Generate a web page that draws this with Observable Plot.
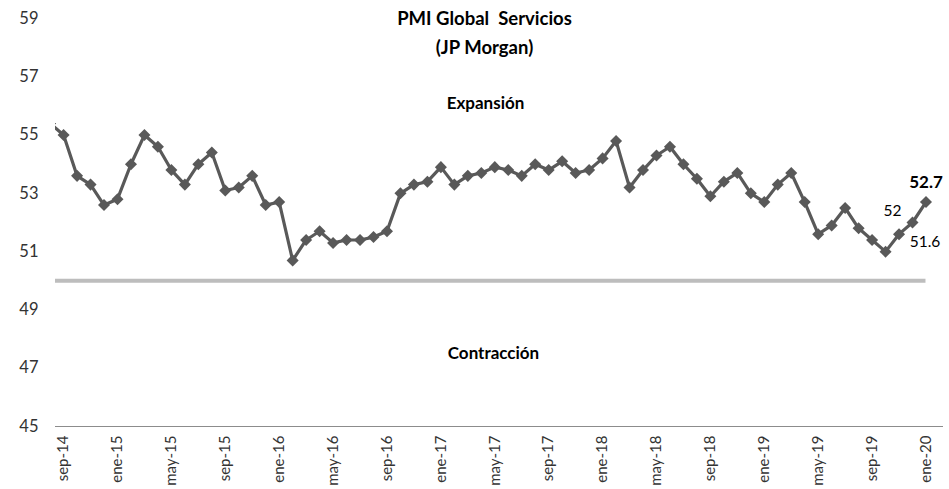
<!DOCTYPE html>
<html><head><meta charset="utf-8">
<script src="https://cdn.jsdelivr.net/npm/d3@7"></script>
<script src="https://cdn.jsdelivr.net/npm/@observablehq/plot@0.6"></script>
<style>body{margin:0;background:#fff} svg{display:block}</style>
</head><body><div id="chart"></div>
<script>
// ---- data ----
const monthAbbr = ["ene","feb","mar","abr","may","jun","jul","ago","sep","oct","nov","dic"];
const firstYear = 2014;      // series starts ago-14 (only partly visible, clipped by the axis)
const firstMonth = 7;        // 0-based month index (ago)
const pmi = [
  55.4,                                   // ago-14
  55.0, 53.6, 53.3, 52.6,                 // sep-dic 14
  52.8, 54.0, 55.0, 54.6, 53.8, 53.3, 54.0, 54.4, 53.1, 53.2, 53.6, 52.6, // 2015
  52.7, 50.7, 51.4, 51.7, 51.3, 51.4, 51.4, 51.5, 51.7, 53.0, 53.3, 53.4, // 2016
  53.9, 53.3, 53.6, 53.7, 53.9, 53.8, 53.6, 54.0, 53.8, 54.1, 53.7, 53.8, // 2017
  54.2, 54.8, 53.2, 53.8, 54.3, 54.6, 54.0, 53.5, 52.9, 53.4, 53.7, 53.0, // 2018
  52.7, 53.3, 53.7, 52.7, 51.6, 51.9, 52.5, 51.8, 51.4, 51.0, 51.6, 52.0, // 2019
  52.7                                    // ene-20
];
const tickLabels = ["sep-14","ene-15","may-15","sep-15","ene-16","may-16","sep-16","ene-17",
  "may-17","sep-17","ene-18","may-18","sep-18","ene-19","may-19","sep-19","ene-20"];
const yTicks = [45, 47, 49, 51, 53, 55, 57, 59];
const threshold = 50;
const titleLines = ["PMI Global  Servicios", "(JP Morgan)"];
const zoneLabels = ["Expansión", "Contracción"];
const labelledMonths = ["nov-19", "dic-19", "ene-20"];

// ---- build table ----
const firstVisible = tickLabels[0];
const rows = pmi.map((v, k) => {
  const m = firstMonth + k;
  const yr = firstYear + Math.floor(m / 12);
  return {label: monthAbbr[m % 12] + "-" + String(yr % 100).padStart(2, "0"), v};
});
const offset = rows.findIndex(d => d.label === firstVisible);
rows.forEach((d, k) => d.i = k - offset);
const idxOf = lab => rows.find(d => d.label === lab).i;
const tickIdx = tickLabels.map(idxOf);
const lastI = rows[rows.length - 1].i;
const xDomain = [-0.6, lastI + 1.3];
const labelled = rows.filter(d => labelledMonths.includes(d.label));
const fmt = v => String(+v.toFixed(1));

const font = "Lato, 'Open Sans', sans-serif";
const lineColor = "#595959";

const chart = Plot.plot({
  width: 949, height: 489,
  marginLeft: 55, marginRight: 6, marginTop: 18, marginBottom: 63,
  style: {fontFamily: font, fontSize: "14px", color: "#222", background: "#fff", overflow: "visible"},
  x: {type: "linear", domain: xDomain},
  y: {domain: [yTicks[0], yTicks[yTicks.length - 1]]},
  marks: [
    Plot.ruleY([yTicks[0]], {stroke: "#8c8c8c", strokeWidth: 1}),
    Plot.ruleY([threshold], {x1: xDomain[0], x2: lastI, stroke: "#bdbdbd", strokeWidth: 4}),
    Plot.line(rows, {x: "i", y: "v", stroke: lineColor, strokeWidth: 3.2, clip: true}),
    Plot.dot(rows, {x: "i", y: "v", symbol: "square", r: 4.8, rotate: 45, fill: lineColor, clip: true}),
    Plot.axisY({ticks: yTicks, tickSize: 0, tickPadding: 17, fontSize: 16.5, label: null, fill: "#333"}),
    Plot.axisX({ticks: tickIdx, tickFormat: i => tickLabels[tickIdx.indexOf(i)], tickRotate: -90,
      tickSize: 0, tickPadding: 9, fontSize: 15, label: null, fill: "#333"}),
    Plot.text([titleLines[0]], {frameAnchor: "top", dx: -15, dy: 6, lineAnchor: "bottom", fontWeight: "bold", fontSize: 18.5, fill: "#000"}),
    Plot.text([titleLines[1]], {frameAnchor: "top", dx: -15, dy: 35, lineAnchor: "bottom", fontWeight: "bold", fontSize: 18.5, fill: "#000"}),
    Plot.text([zoneLabels[0]], {frameAnchor: "top", dx: -14, dy: 90, lineAnchor: "bottom", fontWeight: "bold", fontSize: 17, fill: "#000"}),
    Plot.text([zoneLabels[1]], {frameAnchor: "top", dx: -6, dy: 340, lineAnchor: "bottom", fontWeight: "bold", fontSize: 17, fill: "#000"}),
    Plot.text(labelled.filter(d => d.label === labelledMonths[0]), {x: "i", y: "v", text: d => fmt(d.v), dx: 26, dy: 8, fontSize: 15.5, fill: "#000"}),
    Plot.text(labelled.filter(d => d.label === labelledMonths[1]), {x: "i", y: "v", text: d => fmt(d.v), dx: -20, dy: -11, fontSize: 15.5, fill: "#000"}),
    Plot.text(labelled.filter(d => d.label === labelledMonths[2]), {x: "i", y: "v", text: d => fmt(d.v), dx: 0, dy: -20, fontSize: 17, fontWeight: "bold", fill: "#000"})
  ]
});
document.getElementById("chart").appendChild(chart);
</script>
</body></html>
